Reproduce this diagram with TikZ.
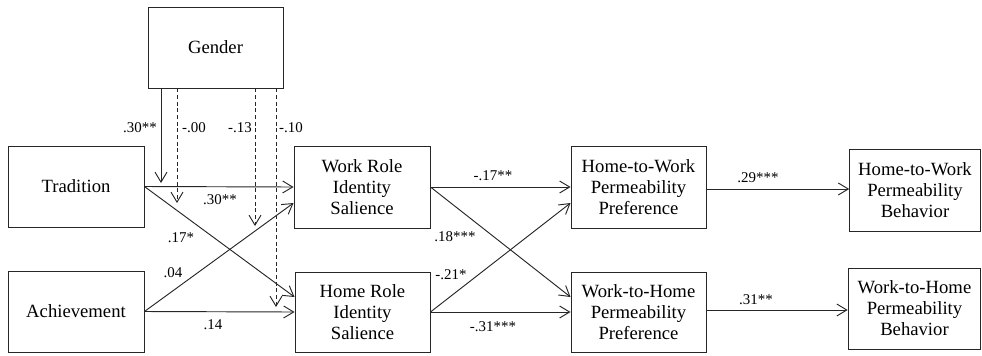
\documentclass[tikz,border=0pt]{standalone}
\usepackage{fontspec}
\setmainfont{Liberation Serif}
\newfontfamily\tms{Liberation Serif}
\usetikzlibrary{arrows.meta,calc}
\begin{document}
\begin{tikzpicture}[x=0.75pt,y=-0.75pt,
  box/.style={draw=black!85,line width=0.7pt,align=center,inner sep=0pt,
    font=\tms\fontsize{14}{15.8}\selectfont},
  lab/.style={inner sep=0pt,font=\tms\fontsize{11.2}{12}\selectfont},
  conn/.style={draw=black!85,line width=0.7pt,-{Straight Barb[length=7.5pt,width=9pt,line width=0.7pt]}},
  dconn/.style={conn,dash pattern=on 3pt off 2pt}]
\useasboundingbox (0,0) rectangle (982,355);
\node[box,minimum width=101.25pt,minimum height=60.75pt] (gender) at (215.5,47.5) {Gender};
\node[box,minimum width=102pt,minimum height=60.75pt] (trad) at (76,186.5) {Tradition};
\node[box,minimum width=102pt,minimum height=60.75pt] (ach) at (76,311.5) {Achievement};
\node[box,minimum width=102pt,minimum height=61.5pt] (work) at (362,187) {Work Role\\Identity\\Salience};
\node[box,minimum width=101.25pt,minimum height=60pt] (home) at (362.5,312) {Home Role\\Identity\\Salience};
\node[box,minimum width=101.25pt,minimum height=61.5pt] (htwp) at (638.5,187) {Home-to-Work\\Permeability\\Preference};
\node[box,minimum width=101.25pt,minimum height=60pt] (wthp) at (638.5,312) {Work-to-Home\\Permeability\\Preference};
\node[box,minimum width=98pt,minimum height=61.5pt] (htwb) at (915,190) {Home-to-Work\\Permeability\\Behavior};
\node[box,minimum width=99.5pt,minimum height=60.75pt] (wthb) at (914.5,308.5) {Work-to-Home\\Permeability\\Behavior};
% first layer
\draw[conn] (trad.east) -- (work.west);
\draw[conn] (trad.east) -- ($(home.west)+(0,-15)$);
\draw[conn] (ach.east) -- ($(work.west)+(0,16)$);
\draw[conn] (ach.east) -- (home.west);
% second layer
\draw[conn] (work.east) -- (htwp.west);
\draw[conn] (work.east) -- ($(wthp.west)+(0,-15)$);
\draw[conn] (home.east) -- ($(htwp.west)+(0,16)$);
\draw[conn] (home.east) -- (wthp.west);
% third layer
\draw[conn] ($(htwp.east)+(1,2)$) -- ($(htwb.west)+(0,-1)$);
\draw[conn] ($(wthp.east)+(0,-2)$) -- ($(wthb.west)+(0,1.5)$);
% gender moderation
\coordinate (g1) at (161,183);
\coordinate (g2) at (177,203);
\coordinate (g3) at (255,226);
\coordinate (g4) at (276,307);
\draw[conn] (gender.south -| g1) -- (g1);
\draw[dconn] (gender.south -| g2) -- (g2);
\draw[dconn] (gender.south -| g3) -- (g3);
\draw[dconn] (gender.south -| g4) -- (g4);
% labels
\node[lab] (l1) at (140,128) {.30**};
\node[lab] (l2) at (194,128) {-.00};
\node[lab] (l3) at (240,128) {-.13};
\node[lab] (l4) at (291,128) {-.10};
\node[lab] (l5) at (220,200) {.30**};
\node[lab] (l6) at (181,238) {.17*};
\node[lab] (l7) at (173,273) {.04};
\node[lab] (l8) at (213,325) {.14};
\node[lab] (l9) at (493,176) {-.17**};
\node[lab] (l10) at (455,237) {.18***};
\node[lab] (l11) at (451,275) {-.21*};
\node[lab] (l12) at (493,327) {-.31***};
\node[lab] (l13) at (758,178) {.29***};
\node[lab] (l14) at (756,300) {.31**};
\end{tikzpicture}
\end{document}
